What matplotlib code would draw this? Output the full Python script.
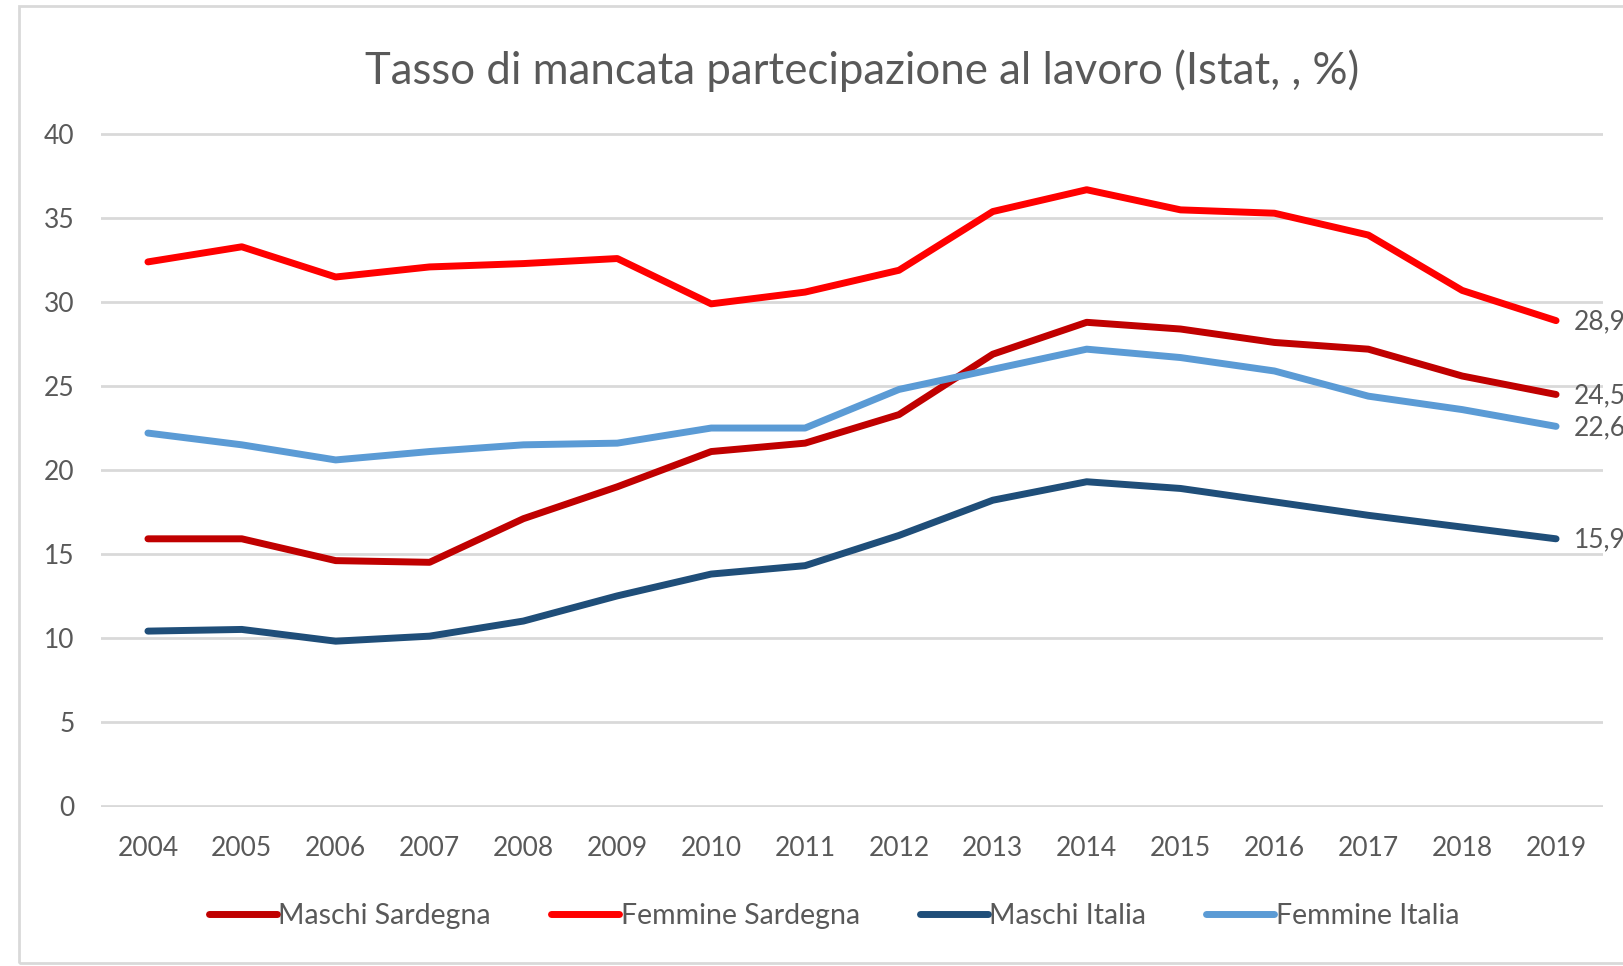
import matplotlib
matplotlib.use("Agg")
import matplotlib.pyplot as plt
from matplotlib.patches import Rectangle

# Dati (valori %)
anni = [str(a) for a in range(2004, 2020)]
maschi_sardegna = [15.9, 15.9, 14.6, 14.5, 17.1, 19.0, 21.1, 21.6, 23.3, 26.9,
                   28.8, 28.4, 27.6, 27.2, 25.6, 24.5]
femmine_sardegna = [32.4, 33.3, 31.5, 32.1, 32.3, 32.6, 29.9, 30.6, 31.9, 35.4,
                    36.7, 35.5, 35.3, 34.0, 30.7, 28.9]
maschi_italia = [10.4, 10.5, 9.8, 10.1, 11.0, 12.5, 13.8, 14.3, 16.1, 18.2,
                 19.3, 18.9, 18.1, 17.3, 16.6, 15.9]
femmine_italia = [22.2, 21.5, 20.6, 21.1, 21.5, 21.6, 22.5, 22.5, 24.8, 26.0,
                  27.2, 26.7, 25.9, 24.4, 23.6, 22.6]
etichette_fine = ["28,9", "24,5", "22,6", "15,9"]

serie = [
    ("Maschi Sardegna", maschi_sardegna, "#C00000"),
    ("Femmine Sardegna", femmine_sardegna, "#FF0000"),
    ("Maschi Italia", maschi_italia, "#1F4E79"),
    ("Femmine Italia", femmine_italia, "#5B9BD5"),
]

plt.rcParams['font.family'] = ['Lato', 'DejaVu Sans']
grigio = "#595959"

fig = plt.figure(figsize=(16.24, 9.66), dpi=100)
ax = fig.add_axes([101/1624, 1 - 807/966, 1502/1624, 674/966])

x = list(range(len(anni)))
for nome, valori, colore in serie:
    ax.plot(x, valori, color=colore, lw=5, label=nome, solid_capstyle='round')

# etichette a destra dell'ultimo punto
for (nome, valori, colore), testo in zip([serie[1], serie[0], serie[3], serie[2]],
                                         etichette_fine):
    ax.annotate(testo, (x[-1], valori[-1]), xytext=(13, -1), textcoords='offset points',
                ha='left', va='center', fontsize=19, color=grigio,
                annotation_clip=False)

ax.set_xlim(-0.5, len(anni) - 0.5)
ax.set_ylim(-0.08, 40.08)
ax.set_yticks(range(0, 41, 5))
ax.set_xticks(x)
ax.set_xticklabels(anni)
ax.yaxis.grid(True, color="#D9D9D9", lw=2)
ax.set_axisbelow(True)
for s in ax.spines.values():
    s.set_visible(False)
ax.tick_params(axis='both', length=0, labelsize=19, colors=grigio)
ax.tick_params(axis='y', pad=19)
ax.tick_params(axis='x', pad=21)

fig.text(862/1624, 1 - 71/966, "Tasso di mancata partecipazione al lavoro (Istat, , %)",
         ha='center', va='center', fontsize=31.5, color=grigio)

fig.legend(loc='center', bbox_to_anchor=(834/1624, 1 - 916/966), ncol=4, frameon=False,
           fontsize=20.5, handlelength=2.4, handletextpad=0.05, columnspacing=2.1,
           labelcolor=grigio)

# cornice dell'area grafico (tagliata a destra)
fig.patches.append(Rectangle((19/1624, 1 - 963/966), 1.2, 957/966,
                             transform=fig.transFigure, fill=False,
                             edgecolor="#D9D9D9", lw=2))

fig.savefig("out.png", dpi=100)
